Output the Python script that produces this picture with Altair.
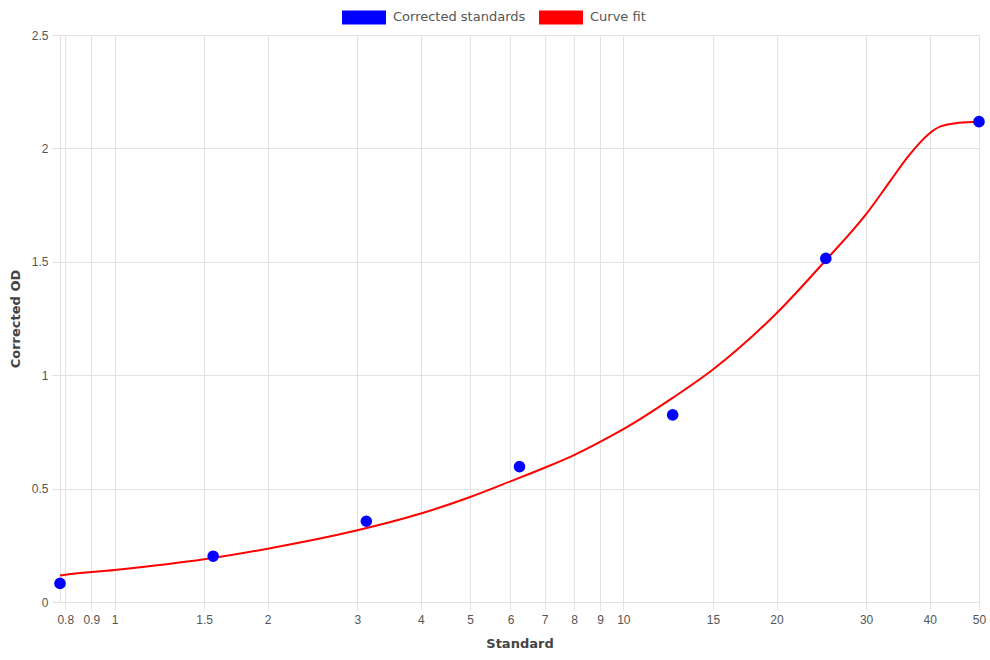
import altair as alt
import pandas as pd

# Standards (serial dilution) and corrected OD
std_x = [0.78125, 1.5625, 3.125, 6.25, 12.5, 25, 50]
std_y = [0.082, 0.202, 0.356, 0.597, 0.825, 1.515, 2.118]

# Curve fit
curve_x = [0.78125, 0.8, 1, 1.5, 2, 3, 4, 5, 6, 7, 8, 9, 10, 12.5,
           15, 20, 25, 30, 33.5, 36.1, 38, 40, 42, 45.6, 50]
curve_y = [0.117, 0.120, 0.141, 0.188, 0.235, 0.316, 0.390, 0.463, 0.532, 0.592,
           0.648, 0.706, 0.762, 0.900, 1.025, 1.273, 1.507, 1.710, 1.858,
           1.958, 2.018, 2.067, 2.097, 2.113, 2.118]

x_ticks = [0.8, 0.9, 1, 1.5, 2, 3, 4, 5, 6, 7, 8, 9, 10, 15, 20, 30, 40, 50]
y_ticks = [0, 0.5, 1, 1.5, 2, 2.5]
series = ["Corrected standards", "Curve fit"]
colors = ["#0000ff", "#ff0000"]

std_df = pd.DataFrame({"x": std_x, "y": std_y, "series": series[0]})
curve_df = pd.DataFrame({"x": curve_x, "y": curve_y})

GRID = "#e2e2e2"
TICKFONT = "Liberation Sans"
TITLEFONT = "DejaVu Sans"

xscale = alt.Scale(type="log", domain=[0.78125, 50], nice=False)
yscale = alt.Scale(domain=[0, 2.5], nice=False, zero=True)

xaxis = alt.Axis(values=x_ticks, format="~g", title="Standard",
                 labelFont=TICKFONT, labelFontSize=12, labelColor="#555555",
                 titleFont=TITLEFONT, titleFontSize=13, titleFontWeight="bold",
                 titleColor="#444444", titlePadding=12,
                 tickSize=8, tickColor=GRID, domainColor=GRID,
                 gridColor=GRID, labelPadding=4, labelFlush=False)
yaxis = alt.Axis(values=y_ticks, format="~g", title="Corrected OD",
                 labelFont=TICKFONT, labelFontSize=12, labelColor="#555555",
                 titleFont=TITLEFONT, titleFontSize=13, titleFontWeight="bold",
                 titleColor="#444444", titlePadding=9,
                 tickSize=8, tickColor=GRID, domainColor=GRID,
                 gridColor=GRID, labelPadding=4)

line = alt.Chart(curve_df).mark_line(color="#ff0000", strokeWidth=2,
                                     interpolate="monotone").encode(
    x=alt.X("x:Q", scale=xscale, axis=xaxis),
    y=alt.Y("y:Q", scale=yscale, axis=yaxis),
)

rect_path = "M-1,-0.3182L1,-0.3182L1,0.3182L-1,0.3182Z"
points = alt.Chart(std_df).mark_point(filled=True, size=135, opacity=1).encode(
    x=alt.X("x:Q", scale=xscale, axis=xaxis),
    y=alt.Y("y:Q", scale=yscale, axis=yaxis),
    color=alt.Color("series:N",
                    scale=alt.Scale(domain=series, range=colors),
                    legend=alt.Legend(orient="none", direction="horizontal",
                                      legendX=282, legendY=-40, title=None,
                                      symbolType=rect_path, symbolSize=1936,
                                      symbolStrokeWidth=0, symbolOpacity=1,
                                      labelFont=TITLEFONT, labelFontSize=13,
                                      labelColor="#555555", labelOffset=7,
                                      columnPadding=13)),
)

chart = (line + points).properties(
    width=919, height=567,
    autosize=alt.AutoSizeParams(type="none"),
    padding={"left": 60, "top": 35, "right": 11, "bottom": 58},
).configure_view(stroke=None).configure(background="white")

chart.save("out.html", embed_options={"renderer": "svg", "actions": False})
